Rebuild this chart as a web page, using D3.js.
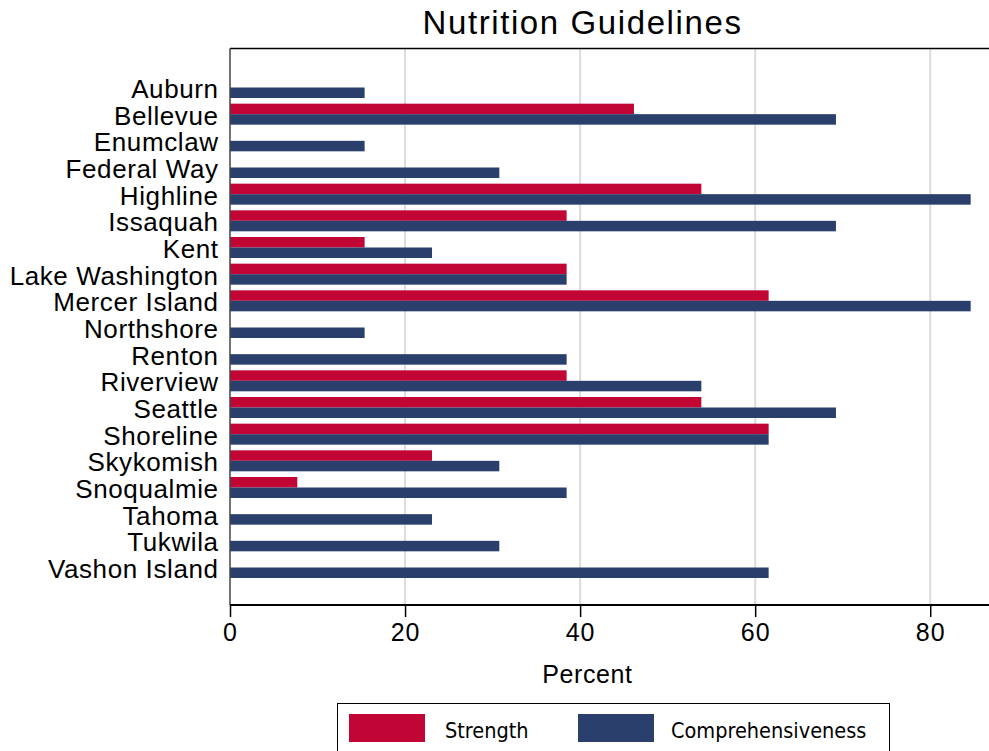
<!DOCTYPE html>
<html>
<head>
<meta charset="utf-8">
<script src="https://cdn.jsdelivr.net/npm/d3@7"></script>
<style>
  html, body { margin: 0; padding: 0; background: #fff; }
  svg { display: block; }
</style>
</head>
<body>
<script>
const categories = ["Auburn","Bellevue","Enumclaw","Federal Way","Highline","Issaquah","Kent","Lake Washington","Mercer Island","Northshore","Renton","Riverview","Seattle","Shoreline","Skykomish","Snoqualmie","Tahoma","Tukwila","Vashon Island"];
const strength = [0, 46.15, 0, 0, 53.85, 38.46, 15.38, 38.46, 61.54, 0, 0, 38.46, 53.85, 61.54, 23.08, 7.69, 0, 0, 0];
const comprehensiveness = [15.38, 69.23, 15.38, 30.77, 84.62, 69.23, 23.08, 38.46, 84.62, 15.38, 38.46, 53.85, 69.23, 61.54, 30.77, 38.46, 23.08, 30.77, 61.54];
const xTicks = [0, 20, 40, 60, 80];
const seriesNames = ["Strength", "Comprehensiveness"];
const seriesColors = ["#C10534", "#2A3F6C"];

const W = 989, H = 751;
const plotLeft = 230, plotRight = 1002, plotTop = 48.5, plotBottom = 605;
const sansFont = "Liberation Sans, Arial, sans-serif";

const svg = d3.select("body").append("svg").attr("width", W).attr("height", H);

const x = d3.scaleLinear().domain([0, 88.2]).range([plotLeft, plotRight]);
const y = d3.scalePoint().domain(categories).range([87.5, 567.5]);
const barH = 10.5;

// gridlines
svg.append("g").selectAll("line").data(xTicks.filter(d => d > 0)).join("line")
  .attr("x1", d => x(d)).attr("x2", d => x(d))
  .attr("y1", plotTop).attr("y2", plotBottom)
  .attr("stroke", "#dcdcdc").attr("stroke-width", 2);

// bars
const rows = categories.map((c, i) => ({c, s: strength[i], v: comprehensiveness[i]}));
svg.append("g").selectAll("rect").data(rows.filter(d => d.s > 0)).join("rect")
  .attr("x", x(0)).attr("y", d => y(d.c) - barH)
  .attr("width", d => x(d.s) - x(0)).attr("height", barH)
  .attr("fill", seriesColors[0]);
svg.append("g").selectAll("rect").data(rows).join("rect")
  .attr("x", x(0)).attr("y", d => y(d.c))
  .attr("width", d => x(d.v) - x(0)).attr("height", barH)
  .attr("fill", seriesColors[1]);

// top border
svg.append("line").attr("x1", plotLeft).attr("x2", W).attr("y1", plotTop).attr("y2", plotTop)
  .attr("stroke", "#000").attr("stroke-width", 1.5);
// left axis
svg.append("line").attr("x1", plotLeft).attr("x2", plotLeft).attr("y1", plotTop).attr("y2", plotBottom)
  .attr("stroke", "#444").attr("stroke-width", 1.5);

// bottom axis
const xAxis = d3.axisBottom(x).tickValues(xTicks).tickSize(12).tickPadding(6).tickFormat(d3.format("d"));
const gx = svg.append("g").attr("transform", `translate(0,${plotBottom})`).call(xAxis);
gx.select(".domain").attr("d", `M${plotLeft},0H${W}`).attr("stroke", "#000").attr("stroke-width", 2);
gx.selectAll(".tick line").attr("stroke", "#000").attr("stroke-width", 1.5);
gx.selectAll(".tick text").attr("font-family", sansFont)
  .attr("font-size", 25).attr("letter-spacing", 1).attr("fill", "#000");

// category labels
svg.append("g").selectAll("text").data(categories).join("text")
  .attr("x", 218.6).attr("y", d => y(d) + 10.5)
  .attr("text-anchor", "end")
  .attr("font-family", sansFont)
  .attr("font-size", 26).attr("letter-spacing", 0.6).attr("fill", "#000")
  .text(d => d);

// title
svg.append("text").attr("x", 582.5).attr("y", 33.5)
  .attr("text-anchor", "middle")
  .attr("font-family", sansFont)
  .attr("font-size", 33).attr("letter-spacing", 1.6).attr("fill", "#000")
  .text("Nutrition Guidelines");

// x label
svg.append("text").attr("x", 587.5).attr("y", 683)
  .attr("text-anchor", "middle")
  .attr("font-family", sansFont)
  .attr("font-size", 25).attr("letter-spacing", 0.6).attr("fill", "#000")
  .text("Percent");

// legend
const lg = svg.append("g");
lg.append("rect").attr("x", 337.5).attr("y", 703.5).attr("width", 552).attr("height", 60)
  .attr("fill", "#fff").attr("stroke", "#000").attr("stroke-width", 1);
const legendItems = [
  {name: seriesNames[0], color: seriesColors[0], sx: 349, tx: 445},
  {name: seriesNames[1], color: seriesColors[1], sx: 578, tx: 671}
];
legendItems.forEach(it => {
  lg.append("rect").attr("x", it.sx).attr("y", 714).attr("width", 76).attr("height", 28).attr("fill", it.color);
  lg.append("text").attr("x", it.tx).attr("y", 738)
    .attr("font-family", "DejaVu Sans Condensed, DejaVu Sans, sans-serif")
    .attr("font-stretch", "condensed")
    .attr("font-size", 21.5).attr("fill", "#000")
    .text(it.name);
});
</script>
</body>
</html>
